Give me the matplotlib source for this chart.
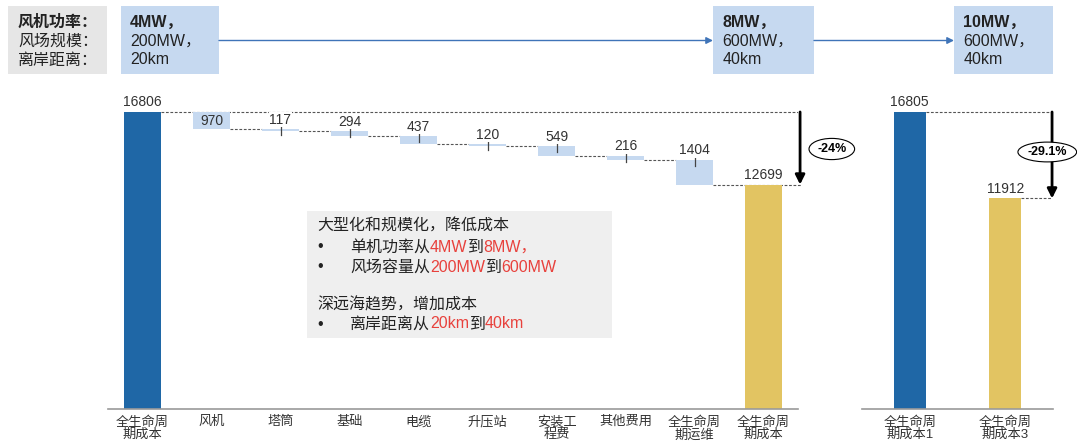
import matplotlib.pyplot as plt
from matplotlib.patches import Rectangle

plt.rcParams['font.family'] = ['Liberation Sans', 'Noto Sans CJK SC']

# data
labels_left = ['全生命周\n期成本', '风机', '塔筒', '基础', '电缆', '升压站',
               '安装工\n程费', '其他费用', '全生命周\n期运维', '全生命周\n期成本']
start_cost = 16806
steps = [970, 117, 294, 437, 120, 549, 216, 1404]
end_cost = 12699
labels_right = ['全生命周\n期成本1', '全生命周\n期成本3']
right_costs = [16805, 11912]
drop_left = '-24%'
drop_right = '-29.1%'
row_names = ['风机功率：', '风场规模：', '离岸距离：']
stages = [['4MW，', '200MW，', '20km'],
          ['8MW，', '600MW，', '40km'],
          ['10MW，', '600MW，', '40km']]

dark = '#1f67a6'
light = '#c6d9f0'
yellow = '#e2c462'
dash_c = '#555555'
red = '#e8413c'
dash = (0, (2.5, 1.5))
num_size = 10

W, H = 1077, 447
fig = plt.figure(figsize=(W / 100, H / 100), dpi=100)


def frac(x0, y0, x1, y1):
    return [x0 / W, 1 - y1 / H, (x1 - x0) / W, (y1 - y0) / H]


ymax = 17500
u = ymax / 309.3  # data units per pixel
bw = 0.55

ax = fig.add_axes(frac(108, 99.7, 798, 409))
ax2 = fig.add_axes(frac(862, 99.7, 1053, 409))

# left waterfall
ax.bar(0, start_cost, bw, color=dark, zorder=2)
ax.text(0, start_cost + 2.5 * u, str(start_cost), ha='center', va='bottom', fontsize=num_size, color='#333')
ax.plot([bw / 2, 9.55], [start_cost, start_cost], ls=dash, lw=0.8, color=dash_c, zorder=1)
level = start_cost
for i, s in enumerate(steps):
    x = i + 1
    ax.bar(x, s, bw, bottom=level - s, color=light, zorder=2)
    if i == 0:
        ax.text(x, level - s / 2, str(s), ha='center', va='center', fontsize=num_size, color='#333', zorder=3)
    else:
        ax.plot([x, x], [level + 2 * u, level - 6 * u], color='#444', lw=0.9, zorder=3)
        ax.text(x, level + 2.5 * u, str(s), ha='center', va='bottom', fontsize=num_size, color='#333', zorder=3,
                bbox=dict(fc='white', ec='none', pad=0.2))
    level -= s
    x_end = 9.55 if i == len(steps) - 1 else x + 1 - bw / 2
    ax.plot([x + bw / 2, x_end], [level, level], ls=dash, lw=0.8, color=dash_c, zorder=1, clip_on=False)
ax.bar(9, end_cost, bw, color=yellow, zorder=2)
ax.text(9, end_cost + 2.5 * u, str(end_cost), ha='center', va='bottom', fontsize=num_size, color='#333')

ax.annotate('', xy=(9.53, end_cost), xytext=(9.53, start_cost), annotation_clip=False,
            arrowprops=dict(arrowstyle='-|>', color='black', lw=2, mutation_scale=14,
                            shrinkA=0, shrinkB=0))
ax.text(9.99, (409 - 149) * u, drop_left, ha='center', va='center', fontsize=9, fontweight='bold',
        clip_on=False, bbox=dict(boxstyle='ellipse,pad=0.12', fc='white', ec='black', lw=0.8))

# right comparison
bw2 = 0.34
ax2.bar([0, 1], right_costs, bw2, color=[dark, yellow], zorder=2)
for i, v in enumerate(right_costs):
    ax2.text(i, v + 2.5 * u, str(v), ha='center', va='bottom', fontsize=num_size, color='#333')
    ax2.plot([i + bw2 / 2, 1.49], [v, v], ls=dash, lw=0.8, color=dash_c, zorder=1, clip_on=False)
ax2.annotate('', xy=(1.49, right_costs[1]), xytext=(1.49, right_costs[0]), annotation_clip=False,
             arrowprops=dict(arrowstyle='-|>', color='black', lw=2, mutation_scale=14,
                             shrinkA=0, shrinkB=0))
ax2.text(1.44, (409 - 152) * u, drop_right, ha='center', va='center', fontsize=9, fontweight='bold',
         clip_on=False, zorder=5,
         bbox=dict(boxstyle='ellipse,pad=0.08', fc='white', ec='black', lw=0.8))

for a, labs in ((ax, labels_left), (ax2, labels_right)):
    a.set_xlim(-0.5, len(labs) - 0.5)
    a.set_ylim(0, ymax)
    a.set_xticks(range(len(labs)), labs, fontsize=9.5, linespacing=1.05, color='#333')
    a.tick_params(axis='x', length=0, pad=5)
    a.set_yticks([])
    for sp in ('top', 'left', 'right'):
        a.spines[sp].set_visible(False)
    a.spines['bottom'].set_color('#9a9a9a')
    a.spines['bottom'].set_linewidth(1.2)
    a.patch.set_alpha(0)

# overlay in pixel coordinates for the header and the note box
ov = fig.add_axes([0, 0, 1, 1])
ov.set_xlim(0, W)
ov.set_ylim(H, 0)
ov.axis('off')
ov.patch.set_alpha(0)

ov.add_patch(Rectangle((8, 6), 99, 68, fc='#e6e6e6', ec='none'))
for i, name in enumerate(row_names):
    ov.text(18, 22 + 19 * i, name, fontsize=11.5, va='center', ha='left', color='#222',
            fontweight='bold' if i == 0 else 'normal')

boxes = [(120.7, 219), (713, 814), (954, 1053)]
for (x0, x1), st in zip(boxes, stages):
    ov.add_patch(Rectangle((x0, 6), x1 - x0, 68, fc=light, ec='none'))
    for i, s in enumerate(st):
        ov.text(x0 + 9.5, 22 + 19 * i, s, fontsize=11.5, va='center', ha='left', color='#222',
                fontweight='bold' if i == 0 else 'normal')
for (a0, a1), (b0, b1) in zip(boxes[:-1], boxes[1:]):
    ov.annotate('', xy=(b0, 40.5), xytext=(a1, 40.5),
                arrowprops=dict(arrowstyle='-|>', color='#3f74b8', lw=1, mutation_scale=10,
                                shrinkA=0, shrinkB=0))

ov.add_patch(Rectangle((307, 211), 305, 127, fc='#efefef', ec='none'))


def rich(x, y, parts, size=11.5):
    t = ov.text(x, y, parts[0][0], color=parts[0][1], fontsize=size, va='center', ha='left')
    for s, c in parts[1:]:
        t = ov.annotate(s, xy=(1, 0), xycoords=t, va='bottom', ha='left', color=c, fontsize=size)


ink = '#222222'
rich(317, 225, [('大型化和规模化，降低成本', ink)])
ov.text(320, 247, '•', fontsize=11.5, va='center', ha='center', color=ink)
rich(350, 247, [('单机功率从', ink), ('4MW', red), ('到', ink), ('8MW，', red)])
ov.text(320, 267, '•', fontsize=11.5, va='center', ha='center', color=ink)
rich(350, 267, [('风场容量从', ink), ('200MW', red), ('到', ink), ('600MW', red)])
rich(317, 305, [('深远海趋势，增加成本', ink)])
ov.text(320, 324, '•', fontsize=11.5, va='center', ha='center', color=ink)
rich(350, 324, [('离岸距离从', ink), ('20km', red), ('到', ink), ('40km', red)])

fig.savefig('out.png', dpi=100)
